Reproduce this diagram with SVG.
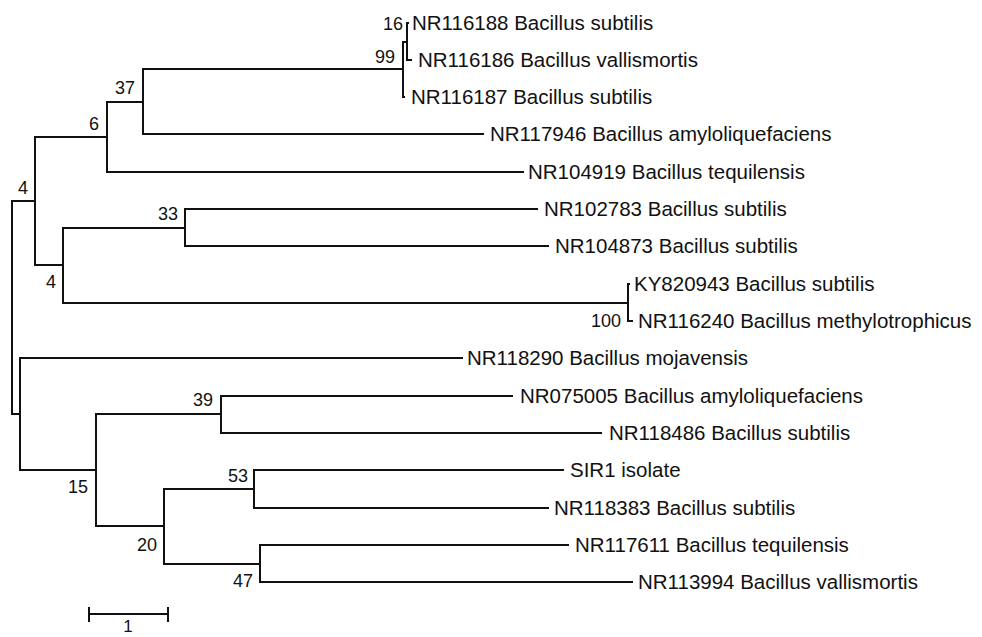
<svg xmlns="http://www.w3.org/2000/svg" width="982" height="637" viewBox="0 0 982 637">
<style>
.br{fill:none;stroke:#111;stroke-width:2;stroke-linecap:square}
.tip{font-family:"Liberation Sans",Arial,sans-serif;font-size:20.5px;fill:#111}
.bs{font-family:"Liberation Sans",Arial,sans-serif;font-size:18px;fill:#111;text-anchor:end}
.sc{font-family:"Liberation Sans",Arial,sans-serif;font-size:17px;fill:#111;text-anchor:middle}
</style>
<rect width="982" height="637" fill="#fff"/>
<g id="connectors">
<path class="br" d="M12,201V414 M12,201H35 M12,414H20"/>
<path class="br" d="M35,137V265 M35,137H107 M35,265H63"/>
<path class="br" d="M107,102V172 M107,102H143 M107,172H523"/>
<path class="br" d="M143,69V134 M143,69H403 M143,134H483"/>
<path class="br" d="M403,42V97 M403,42H407 M403,97H404"/>
<path class="br" d="M407,23V60 M407,23H408 M407,60H411"/>
<path class="br" d="M63,228V303 M63,228H185 M63,303H628"/>
<path class="br" d="M185,209V246 M185,209H537 M185,246H548"/>
<path class="br" d="M628,284V321 M628,284H629 M628,321H632"/>
<path class="br" d="M20,358V470 M20,358H462 M20,470H96"/>
<path class="br" d="M96,414V526 M96,414H221 M96,526H164"/>
<path class="br" d="M221,396V433 M221,396H512 M221,433H601"/>
<path class="br" d="M164,489V564 M164,489H254 M164,564H260"/>
<path class="br" d="M254,470V508 M254,470H563 M254,508H548"/>
<path class="br" d="M260,545V582 M260,545H568 M260,582H632"/>
</g>
<g id="tip-NR116188"><text class="tip" x="412" y="30">NR116188 Bacillus subtilis</text></g>
<g id="tip-NR116186"><text class="tip" x="418" y="67">NR116186 Bacillus vallismortis</text></g>
<g id="tip-NR116187"><text class="tip" x="411" y="104">NR116187 Bacillus subtilis</text></g>
<g id="tip-NR117946"><text class="tip" x="490" y="141">NR117946 Bacillus amyloliquefaciens</text></g>
<g id="tip-NR104919"><text class="tip" x="528" y="179">NR104919 Bacillus tequilensis</text></g>
<g id="tip-NR102783"><text class="tip" x="544" y="216">NR102783 Bacillus subtilis</text></g>
<g id="tip-NR104873"><text class="tip" x="555" y="253">NR104873 Bacillus subtilis</text></g>
<g id="tip-KY820943"><text class="tip" x="634" y="291">KY820943 Bacillus subtilis</text></g>
<g id="tip-NR116240"><text class="tip" x="638" y="328">NR116240 Bacillus methylotrophicus</text></g>
<g id="tip-NR118290"><text class="tip" x="467" y="365">NR118290 Bacillus mojavensis</text></g>
<g id="tip-NR075005"><text class="tip" x="520" y="403">NR075005 Bacillus amyloliquefaciens</text></g>
<g id="tip-NR118486"><text class="tip" x="609" y="440">NR118486 Bacillus subtilis</text></g>
<g id="tip-SIR1"><text class="tip" x="570" y="477">SIR1 isolate</text></g>
<g id="tip-NR118383"><text class="tip" x="554" y="515">NR118383 Bacillus subtilis</text></g>
<g id="tip-NR117611"><text class="tip" x="575" y="552">NR117611 Bacillus tequilensis</text></g>
<g id="tip-NR113994"><text class="tip" x="638" y="589">NR113994 Bacillus vallismortis</text></g>
<g id="node-16"><text class="bs" x="403" y="30">16</text></g>
<g id="node-99"><text class="bs" x="395" y="63">99</text></g>
<g id="node-37"><text class="bs" x="135" y="94">37</text></g>
<g id="node-6"><text class="bs" x="99" y="130">6</text></g>
<g id="node-4a"><text class="bs" x="28" y="194">4</text></g>
<g id="node-33"><text class="bs" x="178" y="220">33</text></g>
<g id="node-4b"><text class="bs" x="56" y="288">4</text></g>
<g id="node-100"><text class="bs" x="621" y="327">100</text></g>
<g id="node-39"><text class="bs" x="213" y="406">39</text></g>
<g id="node-15"><text class="bs" x="88" y="493">15</text></g>
<g id="node-53"><text class="bs" x="248" y="482">53</text></g>
<g id="node-20"><text class="bs" x="157" y="551">20</text></g>
<g id="node-47"><text class="bs" x="253" y="587">47</text></g>
<g id="scale-bar">
<path class="br" d="M89,614H168 M89,608V621 M168,608V621"/>
<text class="sc" x="128" y="632">1</text>
</g>
</svg>
